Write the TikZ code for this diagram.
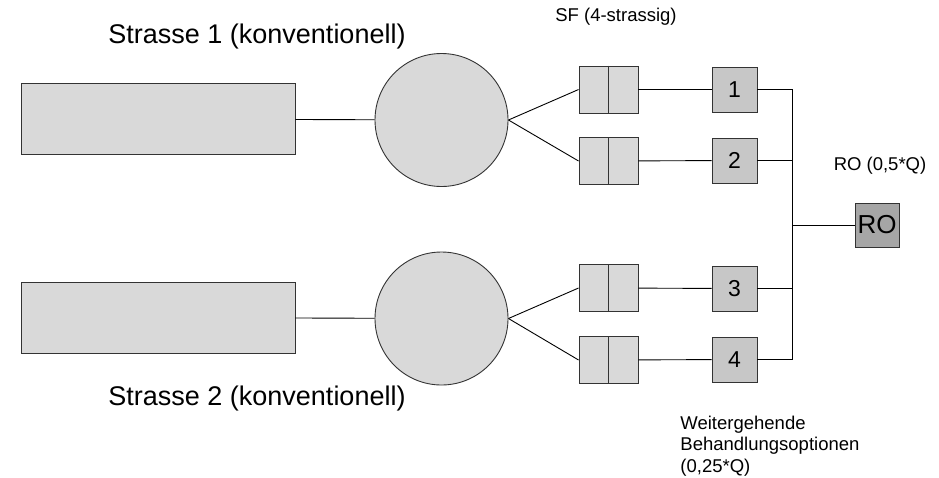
\documentclass[tikz,border=0pt]{standalone}
\usepackage{fontspec}
\setmainfont{Liberation Sans}
\begin{document}
\begin{tikzpicture}[x=1pt, y=-1pt, line width=0.9pt]
  \tikzset{
    strasse/.style={rectangle, draw=black!80, fill=black!15, minimum width=274pt, minimum height=71pt, inner sep=0pt},
    klaer/.style={circle, draw=black!80, fill=black!15, minimum size=133pt, inner sep=0pt},
    sfbox/.style={rectangle, draw=black!80, fill=black!15, minimum width=59pt, minimum height=47pt, inner sep=0pt},
    stufe/.style={rectangle, draw=black!80, fill=black!22, minimum width=45pt, minimum height=45pt, inner sep=0pt, font=\fontsize{23}{23}\selectfont},
    robox/.style={rectangle, draw=black!80, fill=black!35, minimum width=44pt, minimum height=44pt, inner sep=0pt, font=\fontsize{26}{26}\selectfont},
    gross/.style={font=\fontsize{27}{27}\selectfont, inner sep=0pt},
    klein/.style={font=\fontsize{18.5}{21.5}\selectfont, inner sep=0pt}
  }
  \useasboundingbox (0,0) rectangle (939,477);

  % Strassen
  \node[strasse] (s1) at (158,119) {};
  \node[strasse] (s2) at (158,317.5) {};
  \node[klaer] (k1) at (441.5,120) {};
  \node[klaer] (k2) at (441.5,318.5) {};

  % SF (4-strassig)
  \node[sfbox] (sf1) at (608.5,89.5) {};
  \node[sfbox] (sf2) at (608.5,161) {};
  \node[sfbox] (sf3) at (608.5,288) {};
  \node[sfbox] (sf4) at (608.5,360) {};
  \foreach \i in {1,...,4}
    \draw[black!80] (sf\i.north) -- (sf\i.south);

  % weitergehende Stufen
  \node[stufe] (st1) at (734.5,89.5) {1};
  \node[stufe] (st2) at (734.5,160.5) {2};
  \node[stufe] (st3) at (734.5,288.5) {3};
  \node[stufe] (st4) at (734.5,359.5) {4};
  \node[robox] (ro) at (877,225) {RO};
  \coordinate (bus) at (792,0);

  % Texte
  \node[gross] (t1) at (257,37) {Strasse 1 (konventionell)};
  \node[gross] (t2) at (257,399) {Strasse 2 (konventionell)};
  \node[klein] (tsf) at (616,17) {SF (4-strassig)};
  \node[klein] (tro) at (880,166) {RO (0,5*Q)};
  \node[klein, anchor=north west, align=left] (tw) at (680,415.5) {Weitergehende\\Behandlungsoptionen\\(0,25*Q)};

  % Verbindungen
  \draw (s1) -- (k1);
  \draw (s2) -- (k2);
  \draw (k1.east) -- (sf1.west);
  \draw (k1.east) -- (sf2.west);
  \draw (k2.east) -- (sf3.west);
  \draw (k2.east) -- (sf4.west);
  \foreach \i in {1,...,4}
    \draw (sf\i) -- (st\i);
  \draw (st1.east) -- (st1.east -| bus) -- (st4.east -| bus) -- (st4.east);
  \draw (st2.east) -- (st2.east -| bus);
  \draw (st3.east) -- (st3.east -| bus);
  \draw (ro.west -| bus) -- (ro.west);
\end{tikzpicture}
\end{document}
